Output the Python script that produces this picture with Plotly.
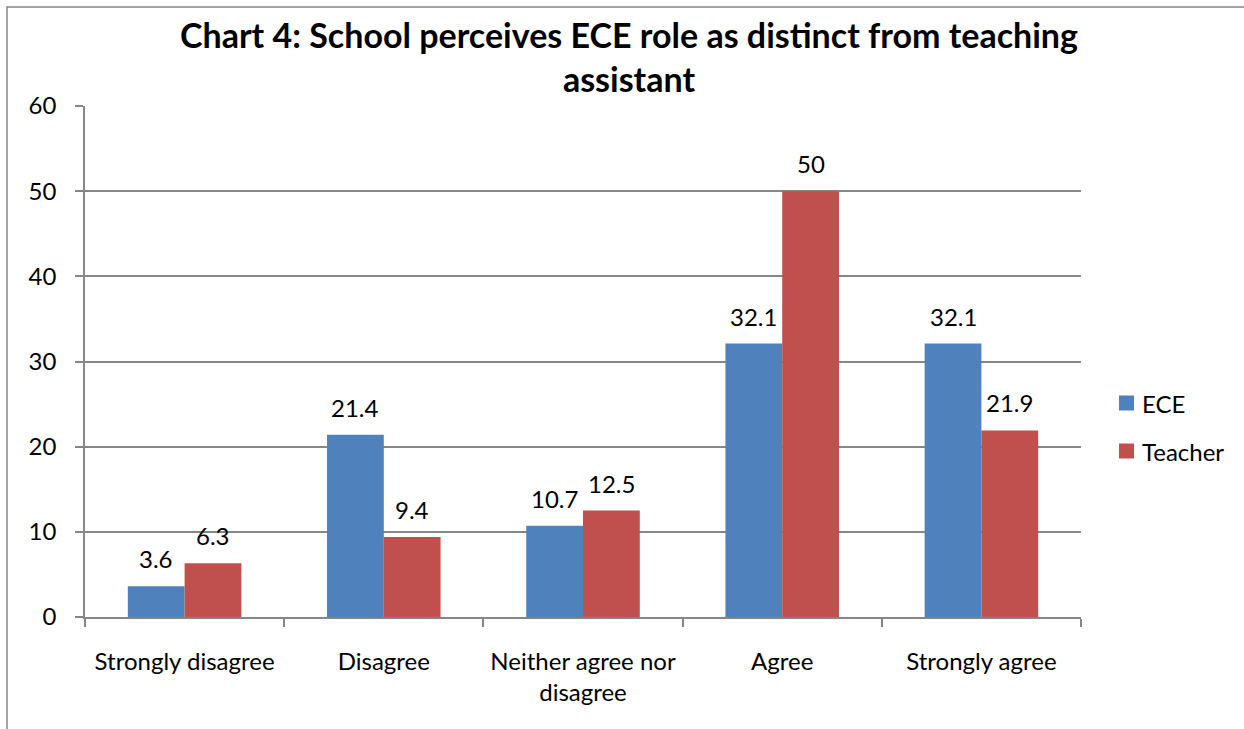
import plotly.graph_objects as go

categories = ["Strongly disagree", "Disagree", "Neither agree nor<br>disagree", "Agree", "Strongly agree"]
ece_values = [3.6, 21.4, 10.7, 32.1, 32.1]
teacher_values = [6.3, 9.4, 12.5, 50, 21.9]
series_names = ["ECE", "Teacher"]
y_ticks = [0, 10, 20, 30, 40, 50, 60]

W, H = 1244, 729
L, R, T, B = 85, 163, 106, 112
FONT = "Lato"
FS = 24
GRID = "#868686"
colors = ["#4F81BD", "#C0504D"]

pw = W - L - R
ph = H - T - B

fig = go.Figure()
for name, vals, col in zip(series_names, [ece_values, teacher_values], colors):
    fig.add_trace(go.Bar(
        name=name, x=categories, y=vals, marker=dict(color=col, line=dict(width=0)),
        showlegend=False,
    ))

# value labels above each bar
cat_w = pw / len(categories)
bar_w = cat_w * (1 - 0.43) / 2
for k, vals in enumerate([ece_values, teacher_values]):
    shift = (k - 0.5) * bar_w
    for c, v in zip(categories, vals):
        fig.add_annotation(x=c, y=v, text=f"{v:g}", showarrow=False,
                           xshift=shift, yshift=11, yanchor="bottom",
                           font=dict(family=FONT, size=FS, color="#000"))

# legend: colour swatch + series name, stacked to the right of the plot
def px_x(p):
    return (p - L) / pw

def px_y(p):
    return (H - B - p) / ph

for i, (name, col) in enumerate(zip(series_names, colors)):
    cy = 403 + i * 48
    fig.add_shape(type="rect", xref="paper", yref="paper",
                  x0=px_x(1119), x1=px_x(1134), y0=px_y(cy + 7.5), y1=px_y(cy - 7.5),
                  line=dict(width=0), fillcolor=col)
    fig.add_annotation(xref="paper", yref="paper", x=px_x(1140), y=px_y(cy),
                       xanchor="left", yanchor="middle", text=name, showarrow=False,
                       font=dict(family=FONT, size=FS, color="#000"))

# outer chart frame
fig.add_shape(type="rect", xref="paper", yref="paper",
              x0=px_x(7), x1=1.3, y0=-0.4, y1=px_y(7),
              line=dict(color="#878787", width=1.5), fillcolor="rgba(0,0,0,0)")

fig.update_layout(
    width=W, height=H, margin=dict(l=L, r=R, t=T, b=B),
    paper_bgcolor="white", plot_bgcolor="white",
    barmode="group", bargap=0.43, bargroupgap=0,
    title=dict(text="<b>Chart 4: School perceives ECE role as distinct from teaching<br>assistant</b>",
               x=629 / W, xanchor="center", y=1 - 48 / H, yanchor="middle",
               font=dict(family=FONT, size=34, color="#000")),
    font=dict(family=FONT, size=FS, color="#000"),
    showlegend=False,
)
fig.update_xaxes(showline=True, linecolor=GRID, linewidth=1.5, ticks="outside",
                 tickson="boundaries", ticklen=8, tickcolor=GRID, tickwidth=1.5,
                 showgrid=False, tickfont=dict(family=FONT, size=FS),
                 ticklabelstandoff=22)
fig.update_yaxes(range=[0, 60], tickvals=y_ticks, showline=True, linecolor=GRID,
                 linewidth=1.5, ticks="outside", ticklen=8, tickcolor=GRID, tickwidth=1.5,
                 showgrid=True, gridcolor=GRID, gridwidth=1.5, zeroline=False,
                 tickfont=dict(family=FONT, size=FS), ticklabelstandoff=14)

fig.write_html("out.html")
